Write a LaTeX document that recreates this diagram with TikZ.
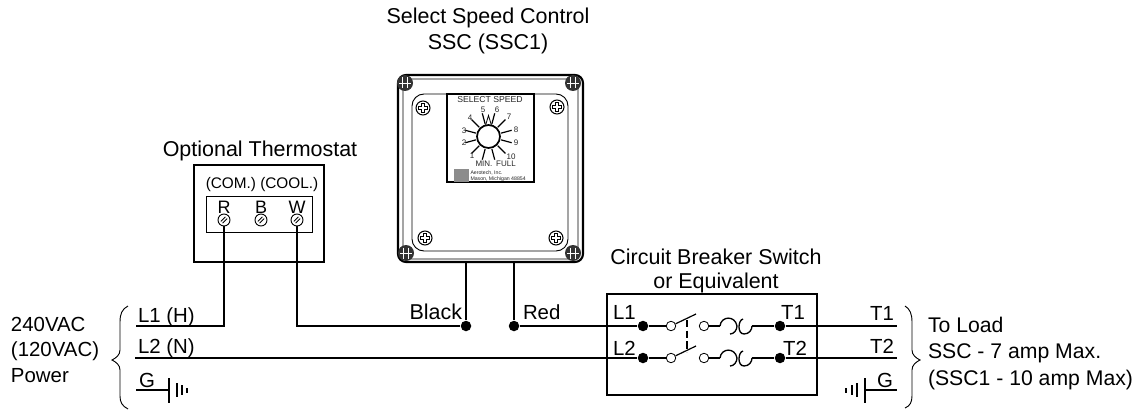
\documentclass[tikz,border=0pt]{standalone}
\usepackage{fontspec}
\setmainfont{Liberation Sans}
\usetikzlibrary{calc}
\tikzset{
 lbl/.style={inner sep=0pt,outer sep=0pt,font=\fontsize{15.3}{18}\selectfont},
 lbw/.style={inner sep=0pt,outer sep=0pt,font=\fontsize{15.9}{18}\selectfont},
 ttl/.style={inner sep=0pt,outer sep=0pt,font=\fontsize{16.1}{18}\selectfont},
 lbs/.style={inner sep=0pt,outer sep=0pt,font=\fontsize{11.5}{14}\selectfont},
 lbr/.style={inner sep=0pt,outer sep=0pt,font=\fontsize{13.5}{14}\selectfont},
 lbt/.style={inner sep=0pt,outer sep=0pt,font=\fontsize{6}{7}\selectfont,text=black!85},
 wire/.style={line width=1.15pt},
 dot/.style={circle,fill=black,inner sep=0pt,minimum size=10.5*0.75pt},
 term/.style={circle,draw=black,fill=white,line width=0.6pt,inner sep=0pt,minimum size=9.5*0.75pt},
}
\newcommand{\phil}[1]{%
 \draw[line width=0.8pt] (#1) circle (7);
 \draw[line width=2.9pt] ($(#1)+(-4.6,0)$) -- ($(#1)+(4.6,0)$) ($(#1)+(0,-4.6)$) -- ($(#1)+(0,4.6)$);
 \draw[white,line width=1.5pt] ($(#1)+(-3.7,0)$) -- ($(#1)+(3.7,0)$) ($(#1)+(0,-3.7)$) -- ($(#1)+(0,3.7)$);
}
\newcommand{\cornerscrew}[1]{%
 \fill[black!80] (#1) circle (8);
 \draw[white,line width=0.35pt] ($(#1)+(-2.5,-5.5)$) -- ($(#1)+(-2.5,5.5)$) ($(#1)+(2.5,-5.5)$) -- ($(#1)+(2.5,5.5)$) ($(#1)+(-6,0)$) -- ($(#1)+(6,0)$);
}
\newcommand{\tscrew}[1]{%
 \draw[line width=0.7pt,fill=white] (#1) circle (6);
 \draw[line width=0.6pt] ($(#1)+(-3.2,1.4)$) -- ($(#1)+(1.4,-3.2)$)
   ($(#1)+(-1.4,3.2)$) -- ($(#1)+(3.2,-1.4)$);
}
\newcommand{\fusesym}[2]{% left x, y
 \draw[line width=1pt] (#1,#2) .. controls (#1+1,#2-10) and (#1+15,#2-11) .. (#1+17,#2)
   .. controls (#1+17,#2+4) and (#1+14,#2+8) .. (#1+10,#2+8);
 \draw[line width=1pt] (#1+23,#2-7) .. controls (#1+18,#2-6) and (#1+17,#2+8) .. (#1+24,#2+8)
   .. controls (#1+29,#2+8) and (#1+32,#2+4) .. (#1+32,#2);
}
\begin{document}
\begin{tikzpicture}[x=0.75pt,y=-0.75pt]
\useasboundingbox (0,0) rectangle (1138,410);

% titles
\node[ttl,anchor=base] (t1) at (488,24) {Select Speed Control};
\node[ttl,anchor=base] (t2) at (488,50) {SSC (SSC1)};
\node[ttl,anchor=base] (t3) at (260,156) {Optional Thermostat};
\node[ttl,anchor=base] (t4) at (716,264) {Circuit Breaker Switch};
\node[ttl,anchor=base] (t5) at (716,288) {or Equivalent};

% SSC box
\draw[line width=1.6pt,rounded corners=6] (398,75) rectangle (583,262);
\draw[line width=0.7pt,rounded corners=5] (403,79) rectangle (578,259);
\draw[line width=0.7pt,rounded corners=9] (412,94) rectangle (568,251);
\draw[line width=0.9pt,fill=white] (447,94) rectangle (534,182);
\cornerscrew{405,83}\cornerscrew{573,83}\cornerscrew{406,253}\cornerscrew{573,253}
\phil{423,108}\phil{557,107}\phil{425,238}\phil{556,238}
\node[lbt,anchor=center,font=\fontsize{6.5}{7}\selectfont] (sel) at (490,100) {SELECT SPEED};
\coordinate (dial) at (488.5,136.5);
\foreach \a in {15,45,...,345}{\draw[line width=0.9pt] ($(dial)+(\a:13)$) -- ($(dial)+(\a:24)$);}
\draw[line width=1.3pt,fill=white] (dial) circle (11.5);
\draw[line width=0.6pt] (485.5,125.5) -- (488.5,115.5) -- (491.5,125.5);
\node[lbt] (n1) at (472,156) {1};
\node[lbt] (n2) at (464,143) {2};
\node[lbt] (n3) at (464,131) {3};
\node[lbt] (n4) at (470,118) {4};
\node[lbt] (n5) at (483,110) {5};
\node[lbt] (n6) at (497,110) {6};
\node[lbt] (n7) at (509,117) {7};
\node[lbt] (n8) at (516,130) {8};
\node[lbt] (n9) at (516,143) {9};
\node[lbt] (n10) at (511,157) {10};
\node[lbt] (nmin) at (484,164) {MIN.};
\node[lbt] (nful) at (506,164) {FULL};
\fill[black!45] (454,169) rectangle (469,182);
\node[lbt,anchor=west,font=\fontsize{3.9}{5}\selectfont] (a1) at (470.5,173) {Aerotech, Inc.};
\node[lbt,anchor=west,font=\fontsize{3.9}{5}\selectfont] (a2) at (470.5,179) {Mason, Michigan 48854};

% thermostat
\draw[line width=1.7pt] (194,165) rectangle (324,262);
\draw[line width=0.7pt] (206,196) rectangle (312,232);
\node[lbs,anchor=base] (tc) at (262,188) {(COM.) (COOL.)};
\node[lbr,anchor=base] (tR) at (224,213) {R};
\node[lbr,anchor=base] (tB) at (261,213) {B};
\node[lbr,anchor=base] (tW) at (297,213) {W};
\coordinate (sR) at (224,220); \coordinate (sB) at (261,220); \coordinate (sW) at (297,220);

% junctions
\coordinate (h1) at (136,326);
\coordinate (h2) at (135,358);
\coordinate (h3) at (136,390);
\coordinate (c1) at (224,326);
\coordinate (c2) at (297,326);
\coordinate (bk) at (466,262);
\coordinate (rd) at (514,262);
\coordinate (g1) at (169,390);
\coordinate (e1) at (897,326);
\coordinate (e2) at (897,358);
\coordinate (e3) at (897,390);
\coordinate (g2) at (865,390);
\node[dot] (jb) at (466,326) {};
\node[dot] (jr) at (514,326) {};

% breaker
\draw[line width=1.7pt] (607,294) rectangle (817,395);
\node[dot] (L1) at (643,326) {};
\node[dot] (L2) at (643,358) {};
\node[dot] (T1) at (780,326) {};
\node[dot] (T2) at (780,358) {};
\node[term] (a1t) at (671,326) {};
\node[term] (a2t) at (671,358) {};
\node[term] (b1t) at (704,326) {};
\node[term] (b2t) at (704,358) {};
\coordinate (bl1) at (696,314);
\coordinate (bl2) at (696,346);

% wires
\draw[wire] (sR) -- (c1) -- (h1);
\draw[wire] (sW) -- (c2) -- (jb);
\draw[wire] (bk) -- (jb);
\draw[wire] (rd) -- (jr) -- (L1);
\draw[wire] (h2) -- (L2);
\draw[wire] (h3) -- (g1);
\draw[wire] (g2) -- (e3);
\draw[wire] (L1) -- (a1t);
\draw[wire] (L2) -- (a2t);
\draw[wire,line width=0.9pt] (a1t) -- (bl1);
\draw[wire,line width=0.9pt] (a2t) -- (bl2);
\draw[line width=0.8pt,dash pattern=on 5.5pt off 2.5pt] (687,320) -- (687,352);
\draw[wire] (b1t) -- (720,326);
\draw[wire] (b2t) -- (720,358);
\fusesym{720}{326}
\fusesym{720}{358}
\draw[wire] (752,326) -- (T1);
\draw[wire] (752,358) -- (T2);
\draw[wire] (T1) -- (e1);
\draw[wire] (T2) -- (e2);
\tscrew{sR}\tscrew{sB}\tscrew{sW}

% grounds
\draw[line width=0.9pt] (g1 |- 0,378) -- (g1 |- 0,403);
\draw[line width=0.9pt] (177,383) -- (177,397);
\draw[line width=0.9pt] (182,385) -- (182,395);
\draw[line width=0.9pt] (187,388) -- (187,393);
\draw[line width=0.9pt] (g2 |- 0,378) -- (g2 |- 0,403);
\draw[line width=0.9pt] (857,383) -- (857,397);
\draw[line width=0.9pt] (852,385) -- (852,395);
\draw[line width=0.9pt] (846,388) -- (846,393);

% braces
\draw[line width=0.7pt] (128,306) .. controls (122,309) and (120,314) .. (120,322) -- (120,350) .. controls (120,355) and (116,358) .. (112,360)
  .. controls (116,362) and (120,365) .. (120,370) -- (120,396) .. controls (120,402) and (122,406) .. (128,409);
\draw[line width=0.7pt] (905,306) .. controls (910,309) and (912,314) .. (912,322) -- (912,350) .. controls (912,355) and (916,358) .. (920,360)
  .. controls (916,362) and (912,365) .. (912,370) -- (912,396) .. controls (912,402) and (910,406) .. (905,408);

% labels
\node[lbl,anchor=base west] (p1) at (11,331) {240VAC};
\node[lbl,anchor=base west] (p2) at (11,356) {(120VAC)};
\node[lbl,anchor=base west] (p3) at (11,382) {Power};
\node[lbl,anchor=base west] (l1h) at (138,322) {L1 (H)};
\node[lbl,anchor=base west] (l2n) at (138,353) {L2 (N)};
\node[lbl,anchor=base west] (gl) at (139,387) {G};
\node[ttl,anchor=base east] (blk) at (462,319) {Black};
\node[lbl,anchor=base west] (red) at (523,319) {Red};
\node[lbl,anchor=base west] (bL1) at (613,319) {L1};
\node[lbl,anchor=base west] (bL2) at (613,355) {L2};
\node[lbl,anchor=base east] (bT1) at (805,319) {T1};
\node[lbl,anchor=base east] (bT2) at (807,355) {T2};
\node[lbl,anchor=base east] (oT1) at (894,320) {T1};
\node[lbl,anchor=base east] (oT2) at (894,353) {T2};
\node[lbl,anchor=base east] (oG) at (893,387) {G};
\node[lbw,anchor=base west] (r1) at (928,332) {To Load};
\node[lbw,anchor=base west] (r2) at (928,358) {SSC - 7 amp Max.};
\node[lbw,anchor=base west] (r3) at (928,385) {(SSC1 - 10 amp Max)};
\end{tikzpicture}
\end{document}
